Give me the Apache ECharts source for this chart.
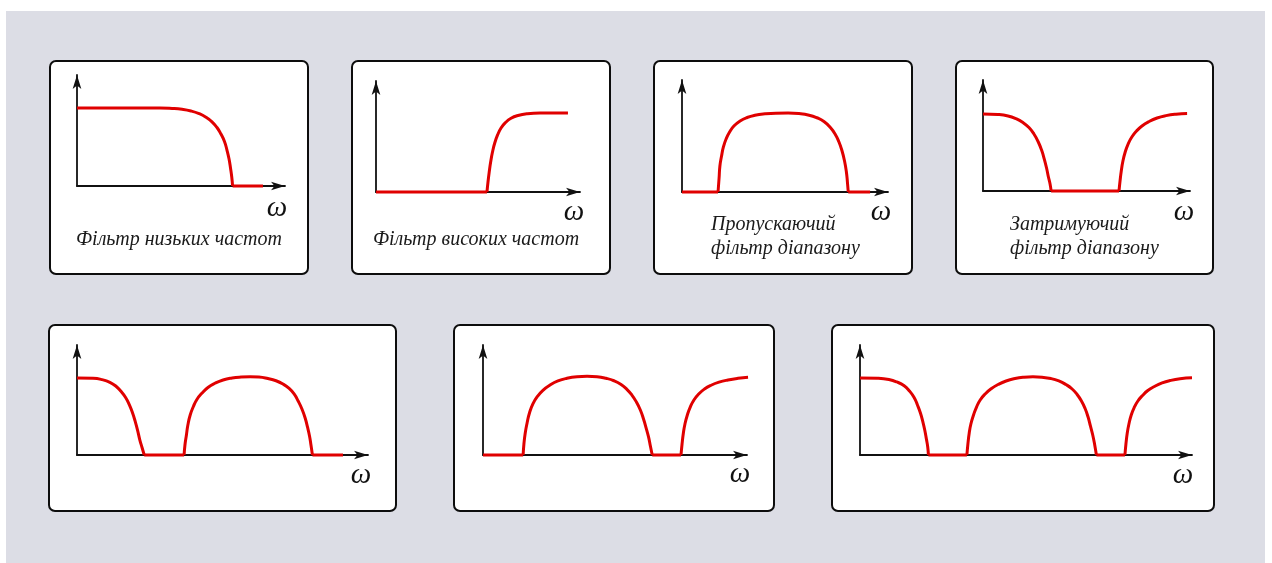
<!DOCTYPE html>
<html>
<head>
<meta charset="utf-8">
<script src="https://cdn.jsdelivr.net/npm/echarts@6/dist/echarts.min.js"></script>
<style>
  html, body { margin: 0; padding: 0; background: #ffffff; }
  #chart { width: 1272px; height: 563px; }
</style>
</head>
<body>
<div id="chart"></div>
<script>
// Magnitude responses: [ω, |H|], ω runs 0–100 along each axis, gain 0–100 up the axis
const lowPass = [[0,70.3],[39.9,70.3],[45.7,69.9],[50.5,69.1],[54.8,67.6],[58.7,65.2],[62,62],[64.9,57.8],[67.3,52.7],[69.2,46.8],[70.9,40.1],[72.1,32.4],[73.1,24.3],[73.8,16.2],[74.4,8.1],[74.8,0],[89.4,0]];
const highPass = [[0,0],[54.4,0],[54.9,9],[55.5,18],[56.2,27],[57.1,36],[58.2,44.1],[59.6,51.4],[61.3,57.7],[63.5,62.6],[66.2,66.4],[69.6,68.9],[74,70.5],[80.4,71.2],[94.1,71.2]];
const bandPass = [[0,0],[17.5,0],[18,12.5],[18.4,23.2],[19.2,32.1],[20.1,40.2],[21.4,47.3],[23.1,53.6],[25.2,58.9],[28.2,63.4],[31.6,66.5],[35.4,68.5],[40.3,69.8],[45.6,70.4],[51.5,70.5],[56.8,70],[61.7,68.6],[65.5,66.3],[68.9,63],[71.8,58],[74.3,51.8],[76.2,44.6],[77.7,36.6],[78.9,27.7],[79.8,17.9],[80.3,8.9],[80.7,0],[91.3,0]];
const bandStop = [[0,69.4],[7.2,68.9],[12.1,67.6],[15.9,65.2],[19.3,61.7],[22.2,57.2],[24.6,51.4],[26.6,44.6],[28.3,36.9],[29.6,28.8],[30.7,20.7],[31.6,12.6],[32.4,6.3],[32.9,0],[65.7,0],[66.2,9],[66.8,18],[67.6,27],[68.7,35.1],[70.1,42.3],[71.9,48.6],[74.2,54.1],[76.8,58.6],[80.2,62.6],[84.1,65.8],[88.4,67.9],[93.2,69.2],[98.6,69.8]];
const lowPlusBand = [[0,70],[5.5,69.7],[8.6,68.5],[11.3,66.1],[13.4,62.5],[15.1,57.9],[16.7,52.3],[18,45.6],[19.1,38.2],[20,30.5],[20.8,22.7],[21.6,13.6],[22.4,6.4],[23.1,0],[36.8,0],[37.1,9.1],[37.6,18.2],[38.1,27.3],[38.9,36.4],[40,44.1],[41.2,50.5],[43,56.4],[45,61.4],[47.4,65.2],[50.2,68.2],[53.3,70],[56.4,70.9],[59.5,71.2],[62.5,70.9],[65.6,69.5],[68.4,67.5],[70.8,64.5],[72.9,60.5],[74.6,55.5],[76,49.1],[77.3,41.8],[78.4,33.6],[79.2,25.5],[79.9,17.3],[80.4,9.1],[80.9,0],[91.4,0]];
const bandPlusHigh = [[0,0],[15.2,0],[15.5,10],[16,20],[16.7,29.1],[17.6,38.2],[18.9,46.4],[20.6,53.2],[22.7,58.8],[25.4,63.6],[28.4,67.3],[31.8,69.7],[35.6,71.1],[39.4,71.5],[43.2,71.1],[46.6,69.7],[49.6,67.5],[52.3,64.1],[54.5,59.7],[56.4,54.5],[58.1,48.2],[59.6,40.9],[60.8,32.7],[61.8,24.5],[62.7,16.4],[63.4,8.2],[64.1,0],[75,0],[75.4,10],[75.9,20],[76.5,28.2],[77.4,36.4],[78.5,43.6],[79.9,50],[81.7,55.5],[83.9,60],[86.4,63.4],[89.4,66.2],[92.8,68.2],[96.6,69.7],[100.4,70.6]];
const lowBandHigh = [[0,70],[5.4,69.7],[8.7,68.6],[11.1,66.4],[13.3,62.9],[14.9,58.2],[16.3,52.3],[17.3,45.5],[18.2,38.2],[18.9,30.5],[19.5,22.7],[20,14.5],[20.4,7.3],[20.6,0],[32.2,0],[32.5,10],[32.9,20],[33.4,28.2],[34.2,36.4],[35.1,43.6],[36.2,50],[37.7,55.5],[39.5,60.2],[41.6,64.1],[44,67.3],[46.7,69.5],[49.4,70.7],[52.1,71.1],[54.8,70.7],[57.5,69.5],[59.9,67.3],[62,64.1],[63.9,60],[65.4,55],[66.7,49.1],[67.8,42.3],[68.7,34.5],[69.4,26.4],[70.1,18.2],[70.7,9.1],[71.2,0],[79.8,0],[80.1,10],[80.5,20],[81,28.2],[81.7,36.4],[82.6,43.2],[83.7,49.1],[85.1,54.1],[86.7,58.6],[88.7,62.3],[91,65.5],[93.4,67.7],[96.4,69.4],[100,70.3]];

const captions = ['Фільтр низьких частот', 'Фільтр високих частот', 'Пропускаючий\nфільтр діапазону', 'Затримуючий\nфільтр діапазону'];
const omega = 'ω';

// Panel layout: frame [x, y, w, h], axes [originX, originY, arrowX, arrowY]
const panels = [
  { frame: [50, 61, 258, 213],  axes: [77, 186, 285, 75],   data: lowPass,      caption: captions[0], capPos: [179, 240], capAlign: 'center', wPos: [277, 208] },
  { frame: [352, 61, 258, 213], axes: [376, 192, 580, 81],  data: highPass,     caption: captions[1], capPos: [476, 240], capAlign: 'center', wPos: [574, 212] },
  { frame: [654, 61, 258, 213], axes: [682, 192, 888, 80],  data: bandPass,     caption: captions[2], capPos: [711, 237], capAlign: 'left',   wPos: [881, 212] },
  { frame: [956, 61, 257, 213], axes: [983, 191, 1190, 80], data: bandStop,     caption: captions[3], capPos: [1010, 237], capAlign: 'left',  wPos: [1184, 212] },
  { frame: [49, 325, 347, 186], axes: [77, 455, 368, 345],  data: lowPlusBand,  wPos: [361, 475] },
  { frame: [454, 325, 320, 186], axes: [483, 455, 747, 345], data: bandPlusHigh, wPos: [740, 474] },
  { frame: [832, 325, 382, 186], axes: [860, 455, 1192, 345], data: lowBandHigh, wPos: [1183, 475] }
];

// Break a response into pieces at the corners where it meets the zero level,
// so each smoothed piece keeps its sharp knee.
function pieces(pts) {
  const out = [];
  let cur = [pts[0]];
  const flat = i => pts[i - 1][1] === 0 && pts[i][1] === 0;
  for (let i = 1; i < pts.length; i++) {
    if (i > 1 && flat(i) !== flat(i - 1)) {
      out.push(cur);
      cur = [pts[i - 1]];
    }
    cur.push(pts[i]);
  }
  out.push(cur);
  return out;
}

const serifFamily = 'Liberation Serif';
const axisColor = '#111111';
const curveColor = '#e00000';

const grid = [], xAxis = [], yAxis = [], series = [], graphics = [];

graphics.push({
  type: 'rect', z: -2,
  shape: { x: 6, y: 11, width: 1259, height: 552 },
  style: { fill: '#dcdde5' }
});

panels.forEach((p, i) => {
  const [ox, oy, tx, ty] = p.axes;
  grid.push({ left: ox, top: ty, width: tx - ox, height: oy - ty });
  const axisLine = {
    show: true,
    symbol: ['none', 'arrow'],
    symbolSize: [6.5, 14],
    symbolOffset: [0, 0],
    lineStyle: { color: axisColor, width: 1.8 }
  };
  const common = {
    gridIndex: i, type: 'value', min: 0, max: 100,
    axisLine, axisTick: { show: false }, axisLabel: { show: false }, splitLine: { show: false }
  };
  xAxis.push(Object.assign({}, common));
  yAxis.push(Object.assign({}, common));

  pieces(p.data).forEach(seg => {
    series.push({
      type: 'line', xAxisIndex: i, yAxisIndex: i,
      data: seg, smooth: 0.5, showSymbol: false, clip: false,
      lineStyle: { color: curveColor, width: 3 },
      silent: true
    });
  });

  const [fx, fy, fw, fh] = p.frame;
  graphics.push({
    type: 'rect', z: -1,
    shape: { x: fx, y: fy, width: fw, height: fh, r: 6 },
    style: { fill: '#ffffff', stroke: '#0d0d0d', lineWidth: 2 }
  });
  graphics.push({
    type: 'text', z: 5,
    x: p.wPos[0], y: p.wPos[1],
    style: {
      text: omega, fill: '#111111',
      fontFamily: serifFamily, fontStyle: 'italic', fontSize: 29,
      align: 'center', verticalAlign: 'middle'
    }
  });
  if (p.caption) {
    graphics.push({
      type: 'text', z: 5,
      x: p.capPos[0], y: p.capPos[1],
      style: {
        text: p.caption, fill: '#1a1a1a',
        fontFamily: serifFamily, fontStyle: 'italic', fontSize: 20, lineHeight: 24,
        align: p.capAlign, verticalAlign: 'middle'
      }
    });
  }
});

const chart = echarts.init(document.getElementById('chart'), null, { renderer: 'canvas' });
chart.setOption({
  animation: false,
  backgroundColor: '#ffffff',
  textStyle: { fontFamily: serifFamily },
  grid, xAxis, yAxis, series,
  graphic: { elements: graphics }
});
</script>
</body>
</html>
